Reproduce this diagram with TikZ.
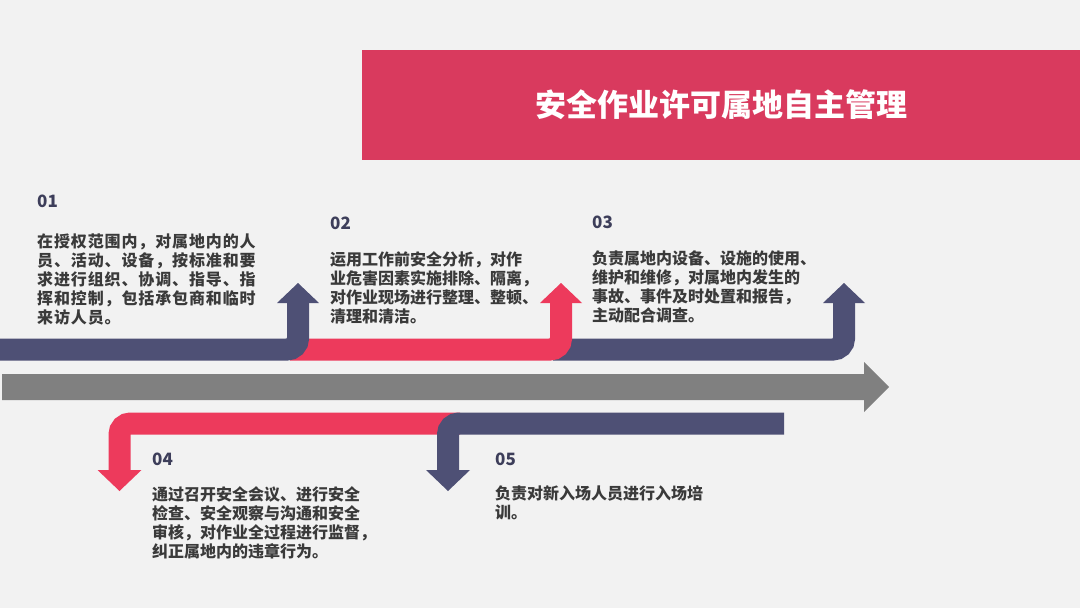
\documentclass[tikz,border=0pt]{standalone}
\usepackage{fontspec}
\newfontfamily\cjk{Noto Sans CJK SC}
\definecolor{bg}{RGB}{242,242,242}
\definecolor{navy}{RGB}{78,80,117}
\definecolor{pinkc}{RGB}{237,58,92}
\definecolor{titlec}{RGB}{217,58,94}
\definecolor{grayc}{RGB}{128,128,128}
\definecolor{txt}{RGB}{58,58,58}
\definecolor{numc}{RGB}{61,62,90}
\begin{document}
\begin{tikzpicture}[x=1pt,y=-1pt,
  band/.style={line width=22pt, rounded corners=11pt},
  numlabel/.style={anchor=base west, inner sep=0pt, text=numc, font=\cjk\bfseries\fontsize{17}{19}\selectfont},
  bodytext/.style={anchor=north west, inner sep=0pt, align=left, text=txt, font=\cjk\bfseries\fontsize{16}{19}\selectfont},
  titlebox/.style={fill=titlec, minimum width=718pt, minimum height=110pt, inner sep=0pt, text=white, font=\cjk\bfseries\fontsize{31}{36}\selectfont}]
\fill[bg] (0,0) rectangle (1080,608);
\useasboundingbox (0,0) rectangle (1080,608);
% title
\node[titlebox] (title) at (721,105) {安全作业许可属地自主管理};
% upper arrows (drawn back to front)
\draw[band, navy] (553,349.5) -- (844,349.5) -- (844,301);
\fill[navy] (823,303) -- (865,303) -- (844,283) -- cycle;
\draw[band, pinkc] (290,349.5) -- (561,349.5) -- (561,301);
\fill[pinkc] (540,303) -- (582,303) -- (561,283) -- cycle;
\draw[band, navy] (0,349.5) -- (298,349.5) -- (298,301);
\fill[navy] (277,303) -- (319,303) -- (298,283) -- cycle;
% grey main arrow
\fill[grayc] (2,374) -- (864,374) -- (864,362) -- (889,387) -- (864,412) -- (864,400) -- (2,400) -- cycle;
% lower arrows
\draw[band, pinkc] (460,423.5) -- (119.5,423.5) -- (119.5,472);
\fill[pinkc] (97.5,470) -- (141.5,470) -- (119.5,491) -- cycle;
\draw[band, navy] (784,423.5) -- (448,423.5) -- (448,472);
\fill[navy] (426,470) -- (470,470) -- (448,491) -- cycle;
% labels
\node[numlabel] (n1) at (37,207) {01};
\node[numlabel] (n2) at (330,229) {02};
\node[numlabel] (n3) at (592,228) {03};
\node[numlabel] (n4) at (152,465) {04};
\node[numlabel] (n5) at (495,465) {05};
\node[bodytext, font=\cjk\bfseries\fontsize{16}{19}\selectfont\addfontfeatures{LetterSpace=5.5}] (t1) at (37,234) {在授权范围内，对属地内的人\\员、活动、设备，按标准和要\\求进行组织、协调、指导、指\\挥和控制，包括承包商和临时\\来访人员。};
\node[bodytext] (t2) at (330,251) {运用工作前安全分析，对作\\业危害因素实施排除、隔离，\\对作业现场进行整理、整顿、\\清理和清洁。};
\node[bodytext] (t3) at (592,251) {负责属地内设备、设施的使用、\\维护和维修，对属地内发生的\\事故、事件及时处置和报告，\\主动配合调查。};
\node[bodytext] (t4) at (152,486) {通过召开安全会议、进行安全\\检查、安全观察与沟通和安全\\审核，对作业全过程进行监督，\\纠正属地内的违章行为。};
\node[bodytext] (t5) at (495,486) {负责对新入场人员进行入场培\\训。};
\end{tikzpicture}
\end{document}
